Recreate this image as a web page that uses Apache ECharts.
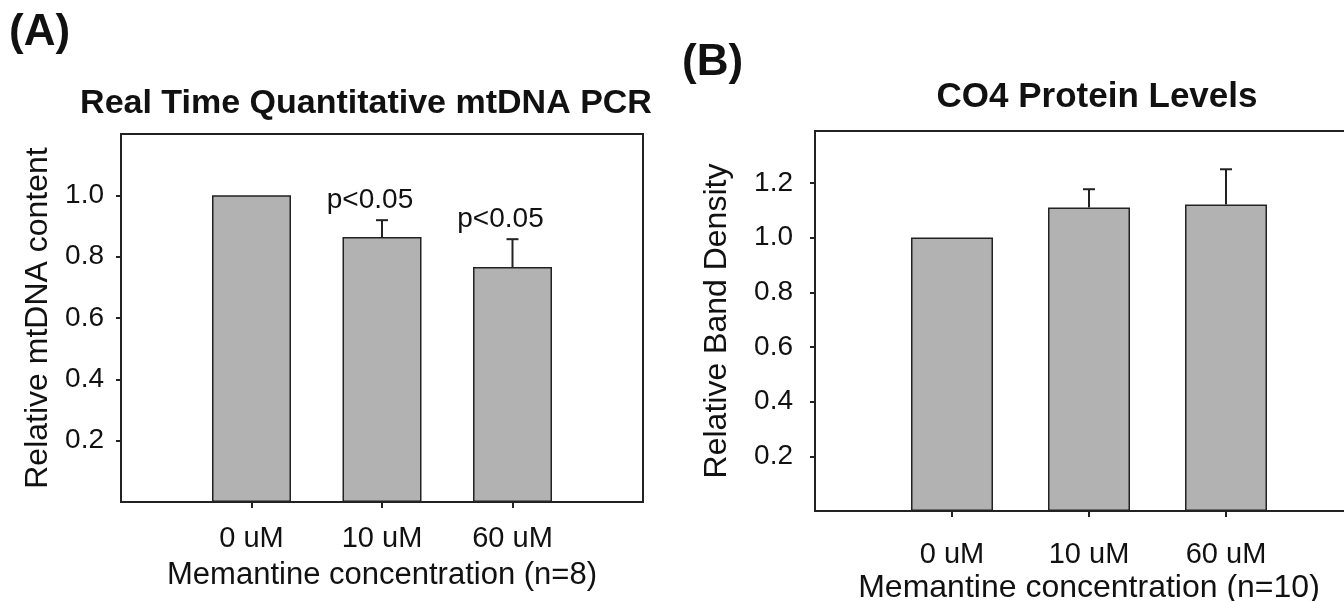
<!DOCTYPE html>
<html>
<head>
<meta charset="utf-8">
<script src="https://cdn.jsdelivr.net/npm/echarts@6/dist/echarts.min.js"></script>
<style>
  html, body { margin: 0; padding: 0; background: #fff; }
  #chart { width: 1344px; height: 601px; }
</style>
</head>
<body>
<div id="chart"></div>
<script>
// categories shared by both panels
const concentrations = ['0 uM', '10 uM', '60 uM']

// (A) real time PCR
const mtdnaMeans = [1.0, 0.864, 0.766]
const mtdnaErrors = [0, 0.055, 0.091]
const mtdnaLabels = ['', 'p<0.05', 'p<0.05']
const mtdnaTicks = [0.2, 0.4, 0.6, 0.8, 1.0]

// (B) CO4 protein
const co4Means = [1.0, 1.11, 1.121]
const co4Errors = [0, 0.067, 0.129]
const co4Labels = ['', '', '']
const co4Ticks = [0.2, 0.4, 0.6, 0.8, 1.0, 1.2]

const FONT = '"Liberation Sans", Arial, sans-serif'
const positions = concentrations.map((c, i) => i + 1)

function xAxisFor(gridIndex, name, labelMargin, nameGap, nameSize) {
  return {
    type: 'value', gridIndex, min: 0, max: 4,
    axisLine: { show: false },
    splitLine: { show: false },
    axisTick: { customValues: positions, length: 6, lineStyle: { color: '#222', width: 2 } },
    axisLabel: {
      customValues: positions,
      formatter: v => concentrations[v - 1],
      color: '#111', fontSize: 29, fontFamily: FONT, margin: labelMargin
    },
    name, nameLocation: 'middle', nameGap, nameMoveOverlap: false,
    nameTextStyle: { color: '#111', fontSize: nameSize, fontFamily: FONT }
  }
}

function yAxisFor(gridIndex, name, max, ticks, labelMargin, nameGap) {
  return {
    type: 'value', gridIndex, min: 0, max,
    axisLine: { show: false },
    splitLine: { show: false },
    axisTick: { customValues: ticks, length: 5, lineStyle: { color: '#222', width: 2 } },
    axisLabel: {
      customValues: ticks,
      formatter: v => v.toFixed(1),
      color: '#111', fontSize: 28, fontFamily: FONT, margin: labelMargin
    },
    name, nameLocation: 'middle', nameGap, nameMoveOverlap: false,
    nameTextStyle: { color: '#111', fontSize: 32, fontFamily: FONT }
  }
}

function barSeries(idx, means, width) {
  return {
    type: 'bar', xAxisIndex: idx, yAxisIndex: idx,
    barWidth: width,
    data: means.map((m, i) => [positions[i], m]),
    itemStyle: { color: '#b2b2b2', borderColor: '#222', borderWidth: 1.5 },
    z: 3
  }
}

function errorSeries(idx, means, errors, labels) {
  return {
    type: 'custom', xAxisIndex: idx, yAxisIndex: idx, z: 4,
    data: means.map((m, i) => [positions[i], m, errors[i]]),
    renderItem(params, api) {
      const x = api.value(0), v = api.value(1), e = api.value(2)
      const base = api.coord([x, v])
      const top = api.coord([x, v + e])
      const children = []
      if (e > 0) {
        children.push({
          type: 'line', shape: { x1: base[0], y1: base[1], x2: top[0], y2: top[1] },
          style: { stroke: '#222', lineWidth: 2 }
        })
        children.push({
          type: 'line', shape: { x1: top[0] - 6, y1: top[1], x2: top[0] + 6, y2: top[1] },
          style: { stroke: '#222', lineWidth: 2 }
        })
      }
      const label = labels[params.dataIndex]
      if (label) {
        children.push({
          type: 'text',
          style: {
            text: label, x: top[0] - 12, y: top[1] - 6,
            align: 'center', verticalAlign: 'bottom',
            fill: '#111', fontSize: 28, fontFamily: FONT
          }
        })
      }
      return { type: 'group', children }
    }
  }
}

const chart = echarts.init(document.getElementById('chart'))
chart.setOption({
  animation: false,
  backgroundColor: '#fff',
  grid: [
    { left: 121, top: 134, width: 522, height: 368, outerBoundsMode: 'none', containLabel: false, show: true, borderColor: '#222', borderWidth: 2, backgroundColor: 'transparent' },
    { left: 815, top: 131, width: 548, height: 380, outerBoundsMode: 'none', containLabel: false, show: true, borderColor: '#222', borderWidth: 2, backgroundColor: 'transparent' }
  ],
  xAxis: [
    xAxisFor(0, 'Memantine concentration (n=8)', 22, 58, 31),
    xAxisFor(1, 'Memantine concentration (n=10)', 29, 61, 32)
  ],
  yAxis: [
    yAxisFor(0, 'Relative mtDNA content', 1.2, mtdnaTicks, 17, 67),
    yAxisFor(1, 'Relative Band Density', 1.39, co4Ticks, 22, 82)
  ],
  graphic: [
    { type: 'text', left: 9, top: 11, style: { text: '(A)', fontSize: 44, fontWeight: 'bold', fontFamily: FONT, fill: '#111' } },
    { type: 'text', left: 682, top: 41, style: { text: '(B)', fontSize: 44, fontWeight: 'bold', fontFamily: FONT, fill: '#111' } },
    { type: 'text', x: 366, y: 104, style: { text: 'Real Time Quantitative mtDNA PCR', align: 'center', verticalAlign: 'middle', fontSize: 34, fontWeight: 'bold', fontFamily: FONT, fill: '#111' } },
    { type: 'text', x: 1097, y: 97, style: { text: 'CO4 Protein Levels', align: 'center', verticalAlign: 'middle', fontSize: 35, fontWeight: 'bold', fontFamily: FONT, fill: '#111' } }
  ],
  series: [
    barSeries(0, mtdnaMeans, 79),
    errorSeries(0, mtdnaMeans, mtdnaErrors, mtdnaLabels),
    barSeries(1, co4Means, 82),
    errorSeries(1, co4Means, co4Errors, co4Labels)
  ]
})
</script>
</body>
</html>
